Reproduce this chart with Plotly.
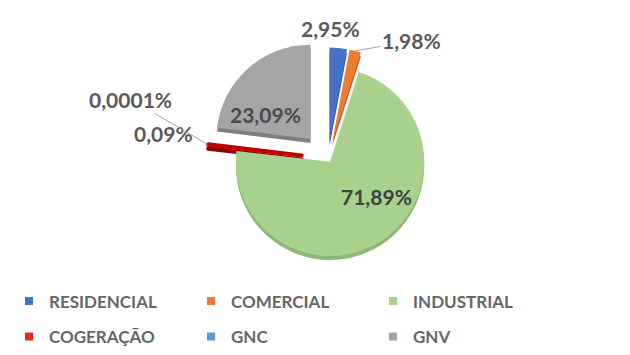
import math
import plotly.graph_objects as go

# Natural gas consumption share by segment (%)
segments = ["RESIDENCIAL", "COMERCIAL", "INDUSTRIAL", "COGERAÇÃO", "GNC", "GNV"]
shares = [2.95, 1.98, 71.89, 0.09, 0.0001, 23.09]
decimals = [2, 2, 2, 2, 4, 2]
colors = ["#4472C4", "#ED7D31", "#A9D18E", "#C00000", "#5B9BD5", "#A5A5A5"]
side_colors = ["#2F5597", "#C55A11", "#8DB873", "#8B0000", "#2E75B6", "#7F7F7F"]
legend_colors = ["#4472C4", "#ED7D31", "#A9D18E", "#E8251F", "#5B9BD5", "#A5A5A5"]
pulls = [0.18, 0.18, 0.04, 0.28, 0.28, 0.28]
edge_widths = [0, 0, 0, 4, 0, 0]
legend_rows = ["legend", "legend", "legend", "legend2", "legend2", "legend2"]

W, H = 630, 355
DOM_X = [0.3276, 0.7137]
DOM_Y = [0.2068, 0.8918]
DEPTH = 4 / H  # thickness of the extruded side


def fmt(v, d):
    return f"{v:.{d}f}".replace(".", ",") + "%"


labels_txt = [fmt(v, d) for v, d in zip(shares, decimals)]

fig = go.Figure()
# Darker copy slightly lower: the visible side of the extruded pie
fig.add_trace(
    go.Pie(
        labels=segments,
        values=shares,
        sort=False,
        direction="clockwise",
        rotation=0,
        pull=pulls,
        marker=dict(colors=side_colors, line=dict(color=side_colors, width=edge_widths)),
        textinfo="none",
        domain=dict(x=DOM_X, y=[DOM_Y[0] - DEPTH, DOM_Y[1] - DEPTH]),
        showlegend=False,
        hoverinfo="skip",
    )
)
# Top face
fig.add_trace(
    go.Pie(
        labels=segments,
        values=shares,
        sort=False,
        direction="clockwise",
        rotation=0,
        pull=pulls,
        marker=dict(colors=colors, line=dict(color=colors, width=edge_widths)),
        textinfo="none",
        domain=dict(x=DOM_X, y=DOM_Y),
        showlegend=False,
        hoverinfo="label+percent",
    )
)

# Pie geometry (same rule plotly uses: radius shrinks to make room for the pull)
box_w = W * (DOM_X[1] - DOM_X[0])
box_h = H * (DOM_Y[1] - DOM_Y[0])
radius = min(box_w, box_h) / (2 + 2 * max(pulls))
cx = W * (DOM_X[0] + DOM_X[1]) / 2
cy = H * (1 - (DOM_Y[0] + DOM_Y[1]) / 2)
total = sum(shares)


def slice_point(i, frac):
    """Point on slice i's middle angle at frac * radius from its (pulled) apex, in paper coords."""
    start = sum(shares[:i]) / total * 2 * math.pi
    mid = start + shares[i] / total * math.pi
    rr = radius * (pulls[i] + frac)
    px = cx + rr * math.sin(mid)
    py = cy - rr * math.cos(mid)
    return px / W, 1 - py / H


# Value labels: (slice index, distance along slice, text offset in px, leader line, colour)
value_labels = [
    (0, 1.0, (-8, -19), False, "#595959"),
    (1, 1.0, (56, -10), True, "#595959"),
    (2, 0.6, (16, -13), False, "#404040"),
    (3, 1.0, (-44, -11), False, "#595959"),
    (4, 1.0, (-77, -45), True, "#595959"),
    (5, 0.55, (-10, 14), False, "#4a4a4a"),
]
for idx, frac, (dx, dy), leader, col in value_labels:
    tx, ty = slice_point(idx, frac)
    font = dict(family="Lato", size=21, color=col, weight="bold")
    if leader:
        fig.add_annotation(
            x=tx, y=ty, xref="paper", yref="paper",
            ax=dx, ay=dy, axref="pixel", ayref="pixel",
            xanchor="center", yanchor="middle",
            text=labels_txt[idx], font=font,
            showarrow=True, arrowhead=0, arrowwidth=1, arrowcolor="#A6A6A6",
            standoff=0, startstandoff=0,
        )
    else:
        fig.add_annotation(
            x=tx, y=ty, xref="paper", yref="paper",
            xanchor="center", yanchor="middle",
            xshift=dx, yshift=-dy,
            text=labels_txt[idx], font=font, showarrow=False,
        )

# Legend keys: small squares, three per row
for name, col, leg in zip(segments, legend_colors, legend_rows):
    fig.add_trace(
        go.Scatter(
            x=[None], y=[None], mode="markers", name=name, legend=leg,
            marker=dict(symbol="square", size=8, color=col),
            hoverinfo="skip",
        )
    )

legend_style = dict(
    orientation="h",
    x=9 / W,
    xanchor="left",
    yanchor="middle",
    entrywidth=137,
    entrywidthmode="pixels",
    font=dict(family="Lato", size=17, color="#666666", weight="bold"),
    bgcolor="rgba(0,0,0,0)",
)

fig.update_layout(
    width=W,
    height=H,
    margin=dict(l=0, r=0, t=0, b=0),
    paper_bgcolor="white",
    plot_bgcolor="white",
    xaxis=dict(visible=False),
    yaxis=dict(visible=False),
    legend=dict(legend_style, y=1 - 304 / H),
    legend2=dict(legend_style, y=1 - 340 / H),
)

fig.write_html("out.html")
